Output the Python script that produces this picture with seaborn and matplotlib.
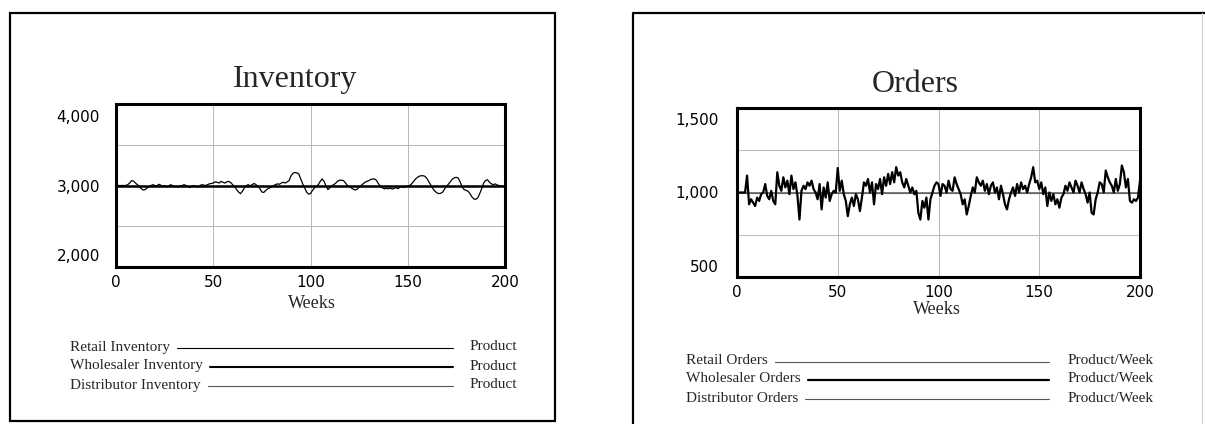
import numpy as np
import pandas as pd
import seaborn as sns
import matplotlib
matplotlib.use("Agg")
import matplotlib.pyplot as plt
import matplotlib.transforms as mtransforms
from matplotlib.lines import Line2D
from matplotlib.patches import Rectangle

# ---- data (one value per week 0..200) ----
weeks = list(range(201))

retail_inventory = [
    3000, 3000, 3000, 3000, 3000, 3000, 3010, 3030, 3060, 3055,
    3030, 3010, 2990, 2960, 2945, 2950, 2970, 2985, 3000, 3010,
    3000, 2995, 3015, 3005, 2990, 3000, 2985, 2990, 3010, 3000,
    2985, 2990, 2980, 2995, 3000, 3010, 3000, 2985, 2975, 2990,
    3000, 2990, 2980, 2995, 3010, 3005, 3000, 3010, 3020, 3025,
    3030, 3045, 3040, 3030, 3050, 3040, 3030, 3045, 3050, 3035,
    3010, 2990, 2950, 2920, 2900, 2930, 2970, 3000, 3010, 2995,
    3010, 3025, 3010, 2990, 2960, 2920, 2915, 2940, 2960, 2970,
    2985, 3000, 3010, 3020, 3015, 3030, 3040, 3030, 3045, 3060,
    3120, 3150, 3160, 3155, 3140, 3080, 3020, 2970, 2920, 2895,
    2900, 2940, 2970, 2990, 3010, 3050, 3080, 3050, 2990, 2950,
    2975, 3000, 3010, 3030, 3055, 3065, 3065, 3060, 3030, 3000,
    2990, 2970, 2955, 2945, 2955, 2980, 3000, 3020, 3040, 3050,
    3060, 3075, 3080, 3080, 3060, 3020, 2990, 2970, 2960, 2965,
    2960, 2970, 2955, 2965, 2975, 2960, 2980, 2990, 2975, 2990,
    2990, 3000, 3020, 3050, 3080, 3100, 3115, 3120, 3120, 3110,
    3080, 3040, 3000, 2960, 2930, 2910, 2900, 2905, 2920, 2960,
    2990, 3020, 3050, 3080, 3095, 3100, 3090, 3040, 2980, 2950,
    2940, 2930, 2900, 2860, 2835, 2830, 2850, 2900, 2960, 3030,
    3060, 3070, 3040, 3020, 3010, 3020, 3005, 3000, 2995, 2990,
    2990,
]
wholesaler_inventory = [3000] * len(weeks)
distributor_inventory = [3000] * len(weeks)

retail_orders = [
    1000, 1000, 1000, 1000, 1000, 1100, 930, 960, 940, 920,
    970, 950, 990, 1000, 1050, 980, 960, 1010, 950, 930,
    1120, 1040, 1010, 1090, 1030, 1070, 990, 1100, 1020, 1060,
    980, 840, 1010, 1040, 1020, 1060, 1040, 1070, 1020, 1000,
    960, 1050, 900, 1030, 970, 1060, 950, 990, 1010, 1000,
    1145, 1010, 1070, 990, 950, 860, 930, 970, 920, 990,
    960, 890, 970, 1060, 1040, 1080, 1000, 1060, 930, 1050,
    1020, 1080, 990, 1090, 1040, 1110, 1050, 1120, 1060, 1150,
    1100, 1120, 1060, 1030, 1080, 1040, 1000, 1030, 990, 1010,
    880, 840, 950, 910, 970, 840, 960, 1000, 1040, 1060,
    1050, 980, 1050, 1040, 1000, 1070, 1020, 1010, 1090, 1050,
    1020, 990, 930, 960, 870, 920, 980, 1030, 1000, 1090,
    1060, 1040, 1070, 1010, 1050, 990, 1040, 1060, 1000, 1030,
    960, 1040, 990, 930, 900, 960, 1000, 1030, 980, 1050,
    1000, 1060, 1020, 1040, 1000, 1050, 1090, 1150, 1060, 1070,
    1020, 1060, 990, 1030, 920, 1000, 950, 990, 930, 960,
    910, 970, 990, 1040, 1010, 1060, 1030, 1000, 1070, 1040,
    1000, 1060, 1020, 990, 940, 1000, 880, 870, 960, 1000,
    1060, 1050, 1000, 1130, 1090, 1060, 1040, 1000, 1080, 1010,
    1050, 1160, 1120, 1030, 1080, 950, 940, 960, 950, 970,
    1070,
]
wholesaler_orders = [1000] * len(weeks)
distributor_orders = [1000] * len(weeks)

inv_labels = ["Retail Inventory", "Wholesaler Inventory", "Distributor Inventory"]
ord_labels = ["Retail Orders", "Wholesaler Orders", "Distributor Orders"]

inv = pd.DataFrame({"week": weeks, inv_labels[0]: retail_inventory,
                    inv_labels[1]: wholesaler_inventory, inv_labels[2]: distributor_inventory})
orders = pd.DataFrame({"week": weeks, ord_labels[0]: retail_orders,
                       ord_labels[1]: wholesaler_orders, ord_labels[2]: distributor_orders})

sns.set_theme(style="white")
plt.rcParams["font.family"] = ["DejaVu Sans"]

W, H = 1205, 424
fig = plt.figure(figsize=(W / 100, H / 100), dpi=100)
fig.patch.set_facecolor("white")


def box(x0, y0, x1, y1):
    # pixel box (top-left origin) -> figure fraction rect
    return [x0 / W, 1 - y1 / H, (x1 - x0) / W, (y1 - y0) / H]


def fxy(x, y):
    return x / W, 1 - y / H


def fig_line(xs, ys, **kw):
    fig.add_artist(Line2D([x / W for x in xs], [1 - y / H for y in ys],
                          transform=fig.transFigure, **kw))


serif = "Liberation Serif"

# panel frames (the right one runs off the bottom of the scan)
fig.patches.append(Rectangle(fxy(10, 421), 545 / W, 408 / H, transform=fig.transFigure,
                             fill=False, lw=1.6, ec="black"))
fig_line([633, 633, 1205], [430, 13, 13], color="black", lw=1.6)
fig_line([1202, 1202], [13, 430], color="#cfcfcf", lw=0.8)


def setup_axes(rect, ylim, yticks, ylabels, ypad, shift):
    ax = fig.add_axes(rect)
    ax.set_xlim(0, 200)
    ax.set_ylim(*ylim)
    ax.set_xticks([0, 50, 100, 150, 200])
    ax.set_xticklabels(["0", "50", "100", "150", "200"])
    ax.set_yticks(yticks)
    ax.set_yticklabels(ylabels)
    ax.grid(True, color="#b8b8b8", lw=0.7)
    ax.tick_params(length=0, labelsize=11, colors="black")
    ax.tick_params(axis="y", pad=ypad)
    ax.tick_params(axis="x", pad=6)
    for s in ax.spines.values():
        s.set_linewidth(2.2)
        s.set_color("black")
    # push the end labels inwards a little, like the original tool does
    labs = ax.get_yticklabels()
    up = mtransforms.ScaledTranslation(0, shift / 100, fig.dpi_scale_trans)
    down = mtransforms.ScaledTranslation(0, -shift / 100, fig.dpi_scale_trans)
    labs[0].set_transform(labs[0].get_transform() + up)
    labs[-1].set_transform(labs[-1].get_transform() + down)
    return ax


# ---- Inventory ----
ax1 = setup_axes(box(116, 104, 505, 267), (2000, 4000),
                 [2000, 2500, 3000, 3500, 4000], ["2,000", "", "3,000", "", "4,000"], 11.5, 12)
sns.lineplot(data=inv, x="week", y=inv_labels[2], ax=ax1, color="black", lw=0.8)
sns.lineplot(data=inv, x="week", y=inv_labels[1], ax=ax1, color="black", lw=1.8)
sns.lineplot(data=inv, x="week", y=inv_labels[0], ax=ax1, color="black", lw=0.9)
ax1.set_xlabel("")
ax1.set_ylabel("")

# ---- Orders ----
ax2 = setup_axes(box(737, 108, 1140, 277), (500, 1500),
                 [500, 750, 1000, 1250, 1500], ["500", "", "1,000", "", "1,500"], 13, 11)
sns.lineplot(data=orders, x="week", y=ord_labels[2], ax=ax2, color="#555555", lw=0.8)
sns.lineplot(data=orders, x="week", y=ord_labels[1], ax=ax2, color="#666666", lw=1.2)
sns.lineplot(data=orders, x="week", y=ord_labels[0], ax=ax2, color="black", lw=1.6)
ax2.set_xlabel("")
ax2.set_ylabel("")

# titles and axis names
fig.text(*fxy(295, 80), "Inventory", family=serif, fontsize=23, ha="center", va="center")
fig.text(*fxy(915, 84), "Orders", family=serif, fontsize=23, ha="center", va="center")
fig.text(*fxy(312, 303), "Weeks", family=serif, fontsize=13, ha="center", va="center")
fig.text(*fxy(937, 309), "Weeks", family=serif, fontsize=13, ha="center", va="center")

# legend blocks (Vensim style: name, line, units)
fig.canvas.draw()
renderer = fig.canvas.get_renderer()


def legend_block(x_text, rows, labels, line_end, x_units, units, widths, colors):
    for y, lab, lw, c in zip(rows, labels, widths, colors):
        t = fig.text(*fxy(x_text, y), lab, family=serif, fontsize=11, ha="left", va="center")
        x_start = t.get_window_extent(renderer).x1 + 7
        fig_line([x_start, line_end], [y + 1, y + 1], color=c, lw=lw)
        fig.text(*fxy(x_units, y), units, family=serif, fontsize=11, ha="right", va="center")


legend_block(70, [347, 366, 385], inv_labels, 453, 517, "Product",
             [0.8, 1.5, 0.8], ["black", "black", "#555555"])
legend_block(686, [361, 379, 398], ord_labels, 1049, 1154, "Product/Week",
             [0.8, 1.6, 0.8], ["#555555", "black", "#555555"])

fig.savefig("out.png", dpi=100, facecolor="white")
